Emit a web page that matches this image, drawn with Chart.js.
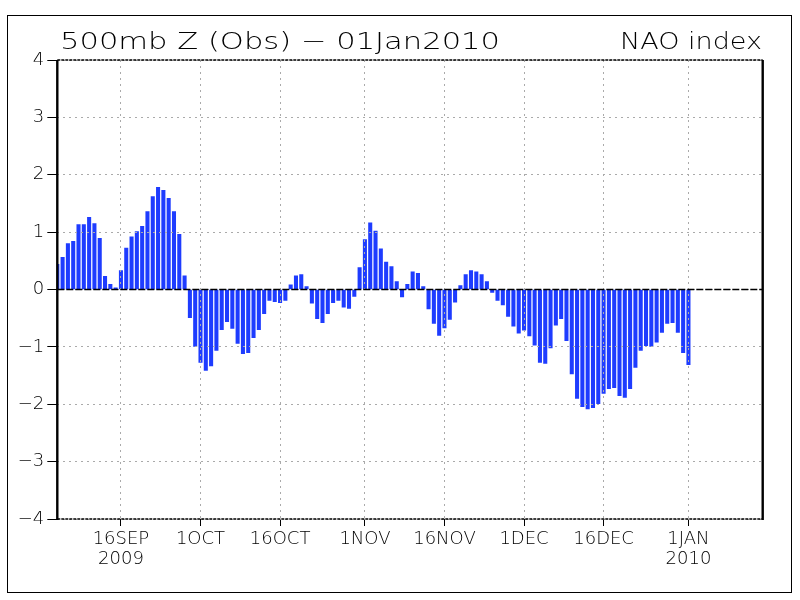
<!DOCTYPE html>
<html>
<head>
<meta charset="utf-8">
<title>NAO index</title>
<script src="https://cdn.jsdelivr.net/npm/chart.js@4.4.1/dist/chart.umd.min.js"></script>
<style>
  html, body { margin: 0; padding: 0; background: #fff; }
  #wrap { width: 800px; height: 600px; position: relative; }
</style>
</head>
<body>
<div id="wrap"><canvas id="naoChart"></canvas></div>
<script>
// daily NAO index, one value per day starting 4 Sep 2009 (index 0) up to 1 Jan 2010
const naoValues = [
    0.44, 0.56, 0.80, 0.84, 1.13, 1.13, 1.26, 1.15, 0.89, 0.23,
    0.09, 0.03, 0.33, 0.72, 0.92, 1.01, 1.10, 1.36, 1.62, 1.78,
    1.73, 1.59, 1.36, 0.96, 0.24, -0.49, -0.99, -1.27, -1.41, -1.33,
    -1.06, -0.70, -0.56, -0.68, -0.94, -1.12, -1.10, -0.84, -0.70, -0.42,
    -0.19, -0.21, -0.23, -0.19, 0.08, 0.24, 0.26, 0.05, -0.24, -0.51,
    -0.58, -0.42, -0.23, -0.19, -0.31, -0.33, -0.12, 0.38, 0.87, 1.16,
    1.02, 0.71, 0.48, 0.40, 0.14, -0.13, 0.09, 0.31, 0.28, 0.05,
    -0.34, -0.59, -0.80, -0.67, -0.52, -0.22, 0.07, 0.26, 0.33, 0.31,
    0.26, 0.14, -0.05, -0.19, -0.27, -0.47, -0.64, -0.76, -0.71, -0.81,
    -0.97, -1.27, -1.29, -1.02, -0.62, -0.51, -0.89, -1.47, -1.90, -2.04,
    -2.08, -2.06, -1.99, -1.81, -1.73, -1.71, -1.85, -1.88, -1.73, -1.36,
    -1.06, -0.98, -0.99, -0.92, -0.75, -0.59, -0.58, -0.75, -1.10, -1.31
];

// x axis runs from day 0 (4SEP2009) to day 133 (15JAN2010)
const dayMin = 0;
const dayMax = 133;
const tickDays = [12, 27, 42, 58, 73, 88, 103, 119];
const tickLabels = [['16SEP', '2009'], '1OCT', '16OCT', '1NOV', '16NOV', '1DEC', '16DEC', ['1JAN', '2010']];

const yMin = -4;
const yMax = 4;

const titleLeft = '500mb Z (Obs) \u2212 01Jan2010';
const titleRight = 'NAO index';

const FONT = '"DejaVu Sans", "Liberation Sans", sans-serif';
const barColor = 'rgb(30, 60, 255)';

// GrADS style frame, zero line and titles
const gradsDecor = {
    id: 'gradsDecor',
    afterDraw(chart) {
        const ctx = chart.ctx;
        const a = chart.chartArea;
        const y0 = chart.scales.y.getPixelForValue(0);
        ctx.save();

        // dashed zero line
        ctx.strokeStyle = '#000';
        ctx.lineWidth = 1.3;
        ctx.setLineDash([7, 2]);
        ctx.beginPath();
        ctx.moveTo(a.left, y0);
        ctx.lineTo(a.right, y0);
        ctx.stroke();

        // top and bottom of the plot box
        ctx.lineWidth = 1.6;
        ctx.setLineDash([3, 1]);
        ctx.beginPath();
        ctx.moveTo(a.left, a.top);
        ctx.lineTo(a.right, a.top);
        ctx.moveTo(a.left, a.bottom);
        ctx.lineTo(a.right, a.bottom);
        ctx.stroke();

        // left and right of the plot box
        ctx.setLineDash([]);
        ctx.lineWidth = 2.4;
        ctx.beginPath();
        ctx.moveTo(a.left, a.top);
        ctx.lineTo(a.left, a.bottom + 1);
        ctx.moveTo(a.right, a.top);
        ctx.lineTo(a.right, a.bottom + 1);
        ctx.stroke();

        // outer page frame
        ctx.lineWidth = 1;
        ctx.strokeRect(7.5, 15.5, 784, 577);

        // titles, stretched to the wide GrADS lettering
        ctx.fillStyle = '#000';
        ctx.textBaseline = 'alphabetic';
        ctx.font = '200 23px ' + FONT;
        const drawWide = (txt, x, y, w) => {
            const m = ctx.measureText(txt).width;
            ctx.save();
            ctx.translate(x, y);
            ctx.scale(w / m, 1);
            ctx.fillText(txt, 0, 0);
            ctx.restore();
        };
        drawWide(titleLeft, 60, 49, 440);
        drawWide(titleRight, 620, 49, 142);

        ctx.restore();
    }
};

const ctx = document.getElementById('naoChart').getContext('2d');
new Chart(ctx, {
    type: 'bar',
    data: {
        datasets: [{
            label: 'NAO index',
            data: naoValues.map((v, i) => ({ x: i, y: v })),
            backgroundColor: barColor,
            borderWidth: 0,
            barThickness: 3.4
        }]
    },
    options: {
        responsive: true,
        maintainAspectRatio: false,
        animation: false,
        layout: { padding: { left: 0, top: 60, right: 37.3, bottom: 0 } },
        plugins: {
            legend: { display: false },
            tooltip: { enabled: false }
        },
        scales: {
            x: {
                type: 'linear',
                min: dayMin,
                max: dayMax,
                offset: false,
                afterBuildTicks: s => { s.ticks = tickDays.map(v => ({ value: v })); },
                afterFit: s => { s.height = 81; },
                grid: {
                    z: 1,
                    offset: false,
                    color: '#aaaaaa',
                    lineWidth: 1,
                    tickLength: 7,
                    tickColor: '#000',
                    tickWidth: 1,
                    tickBorderDash: []
                },
                border: { display: false, dash: [2, 4] },
                ticks: {
                    autoSkip: false,
                    maxRotation: 0,
                    padding: 4,
                    color: '#000',
                    font: { family: FONT, size: 18, weight: 200, lineHeight: 1.08 },
                    callback: v => tickLabels[tickDays.indexOf(v)]
                }
            },
            y: {
                min: yMin,
                max: yMax,
                afterFit: s => { s.width = 57.3; },
                grid: {
                    z: 1,
                    color: '#aaaaaa',
                    lineWidth: 1,
                    tickLength: 10,
                    tickColor: '#000',
                    tickWidth: 1,
                    tickBorderDash: []
                },
                border: { display: false, dash: [2, 4] },
                ticks: {
                    stepSize: 1,
                    padding: 3,
                    color: '#000',
                    font: { family: FONT, size: 18, weight: 200 },
                    callback: v => (v < 0 ? '\u2212' + Math.abs(v) : String(v))
                }
            }
        }
    },
    plugins: [gradsDecor]
});
</script>
</body>
</html>
